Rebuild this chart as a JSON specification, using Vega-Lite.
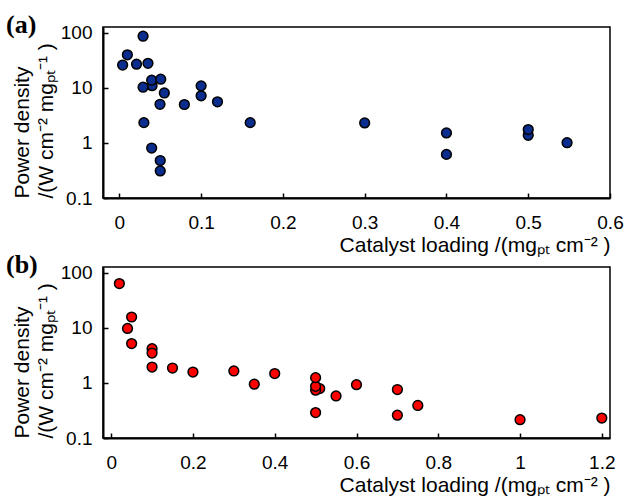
{
  "$schema": "https://vega.github.io/schema/vega-lite/v6.json",
  "padding": {"left": 5, "top": 11, "right": 4, "bottom": 0},
  "background": "white",
  "spacing": 69,
  "bounds": "flush",
  "datasets": {
    "lt": [
      {"loading": 0.004, "power": 26}, {"loading": 0.0098, "power": 40}, {"loading": 0.021, "power": 27},
      {"loading": 0.029, "power": 87}, {"loading": 0.035, "power": 28}, {"loading": 0.04, "power": 11},
      {"loading": 0.0395, "power": 13.8}, {"loading": 0.0506, "power": 14.4}, {"loading": 0.029, "power": 10.3},
      {"loading": 0.055, "power": 8.1}, {"loading": 0.0497, "power": 5.05}, {"loading": 0.0795, "power": 5.0},
      {"loading": 0.1, "power": 10.9}, {"loading": 0.1, "power": 7.2}, {"loading": 0.12, "power": 5.6},
      {"loading": 0.16, "power": 2.34}, {"loading": 0.03, "power": 2.34}, {"loading": 0.0395, "power": 0.81},
      {"loading": 0.05, "power": 0.48}, {"loading": 0.05, "power": 0.31}, {"loading": 0.3, "power": 2.31},
      {"loading": 0.4, "power": 1.52}, {"loading": 0.4, "power": 0.62}, {"loading": 0.5, "power": 1.38},
      {"loading": 0.5, "power": 1.75}, {"loading": 0.5475, "power": 1.01}
    ],
    "ht": [
      {"loading": 0.02, "power": 64}, {"loading": 0.05, "power": 15.8}, {"loading": 0.04, "power": 9.8},
      {"loading": 0.05, "power": 5.2}, {"loading": 0.1, "power": 4.2}, {"loading": 0.1, "power": 3.5},
      {"loading": 0.1, "power": 1.95}, {"loading": 0.15, "power": 1.87}, {"loading": 0.2, "power": 1.58},
      {"loading": 0.3, "power": 1.65}, {"loading": 0.35, "power": 0.95}, {"loading": 0.4, "power": 1.48},
      {"loading": 0.51, "power": 0.79}, {"loading": 0.5, "power": 0.74}, {"loading": 0.5, "power": 0.87},
      {"loading": 0.5, "power": 1.25}, {"loading": 0.55, "power": 0.58}, {"loading": 0.5, "power": 0.29},
      {"loading": 0.6, "power": 0.93}, {"loading": 0.7, "power": 0.76}, {"loading": 0.7, "power": 0.26},
      {"loading": 0.75, "power": 0.39}, {"loading": 1.0, "power": 0.215}, {"loading": 1.2, "power": 0.23}
    ]
  },
  "vconcat": [
    {
      "width": 507,
      "height": 171,
      "title": {"text": "(a)", "font": "Liberation Serif", "fontWeight": "bold", "fontSize": 26, "color": "black", "anchor": "start", "frame": "group", "dx": -97, "dy": 35, "offset": 0, "baseline": "alphabetic"},
      "layer": [
        {
          "data": {"name": "lt"},
          "mark": {"type": "point", "shape": "circle", "filled": true, "fill": "#0b2d8e", "stroke": "black", "strokeWidth": 1.5, "size": 95, "opacity": 1},
          "encoding": {
            "x": {"field": "loading", "type": "quantitative", "scale": {"domain": [-0.02, 0.6], "nice": false, "zero": false},
              "axis": {"values": [0, 0.1, 0.2, 0.3, 0.4, 0.5, 0.6], "format": "~g", "title": "Catalyst loading /(mgₚₜ cm⁻² )", "titleAnchor": "end", "labelPadding": 20, "titlePadding": 2}},
            "y": {"field": "power", "type": "quantitative", "scale": {"type": "log", "domain": [0.1, 128], "nice": false},
              "axis": {"values": [0.1, 1, 10, 100], "format": "~g", "title": ["Power density", "/(W cm⁻² mgₚₜ⁻¹ )"], "labelPadding": 16, "titleAnchor": "start"}}
          }
        },
        {
          "mark": {"type": "text", "text": "LT-PEMFCs", "align": "right", "baseline": "middle", "fontSize": 20, "font": "Liberation Sans", "color": "black", "dx": -5},
          "encoding": {"x": {"datum": 0.6, "type": "quantitative"}, "y": {"datum": 58, "type": "quantitative"}}
        }
      ]
    },
    {
      "width": 507,
      "height": 171,
      "title": {"text": "(b)", "font": "Liberation Serif", "fontWeight": "bold", "fontSize": 26, "color": "black", "anchor": "start", "frame": "group", "dx": -97, "dy": 35, "offset": 0, "baseline": "alphabetic"},
      "layer": [
        {
          "data": {"name": "ht"},
          "mark": {"type": "point", "shape": "circle", "filled": true, "fill": "#ff0000", "stroke": "black", "strokeWidth": 1.5, "size": 95, "opacity": 1},
          "encoding": {
            "x": {"field": "loading", "type": "quantitative", "scale": {"domain": [-0.02, 1.22], "nice": false, "zero": false},
              "axis": {"values": [0, 0.2, 0.4, 0.6, 0.8, 1, 1.2], "format": "~g", "title": "Catalyst loading /(mgₚₜ cm⁻² )", "titleAnchor": "end", "labelPadding": 20, "titlePadding": 2}},
            "y": {"field": "power", "type": "quantitative", "scale": {"type": "log", "domain": [0.1, 128], "nice": false},
              "axis": {"values": [0.1, 1, 10, 100], "format": "~g", "title": ["Power density", "/(W cm⁻² mgₚₜ⁻¹ )"], "labelPadding": 16, "titleAnchor": "start"}}
          }
        },
        {
          "mark": {"type": "text", "text": "HT-PEMFCs", "align": "right", "baseline": "middle", "fontSize": 20, "font": "Liberation Sans", "color": "black", "dx": -4},
          "encoding": {"x": {"datum": 1.22, "type": "quantitative"}, "y": {"datum": 58, "type": "quantitative"}}
        }
      ]
    }
  ],
  "config": {
    "font": "Liberation Sans",
    "view": {"stroke": "black", "strokeWidth": 1.5},
    "axis": {
      "grid": false,
      "domainColor": "black", "domainWidth": 2,
      "tickColor": "black", "tickWidth": 1.5, "tickSize": -5,
      "labelFont": "Liberation Sans", "labelFontSize": 19, "labelColor": "black",
      "titleFont": "Liberation Sans", "titleFontSize": 21, "titleFontWeight": "normal", "titleColor": "black",
      "titleLineHeight": 24, "labelFlush": false, "labelOverlap": false
    }
  }
}
